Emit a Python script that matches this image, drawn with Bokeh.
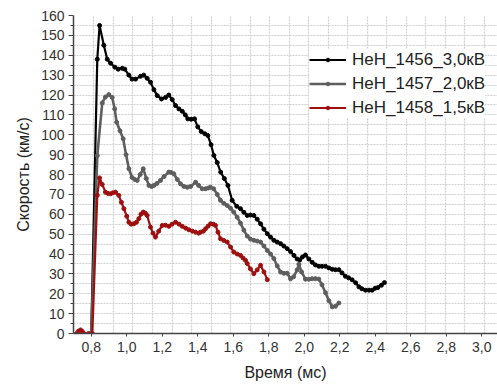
import numpy as np
from bokeh.plotting import figure
from bokeh.models import FixedTicker, Legend, LegendItem, Range1d
from bokeh.embed import file_html
from bokeh.resources import INLINE

# ---- data ----
t_1456 = [0.80, 0.834, 0.847, 0.871, 0.890, 0.909, 0.933, 0.952, 0.975, 0.989, 1.012, 1.03, 1.05,
          1.078, 1.096, 1.115, 1.134, 1.153, 1.172, 1.196, 1.219, 1.237, 1.256, 1.275, 1.294, 1.313,
          1.33, 1.344, 1.363, 1.382, 1.40, 1.42, 1.44, 1.457, 1.475, 1.491, 1.51, 1.529, 1.55, 1.57,
          1.594, 1.62, 1.641, 1.66, 1.679, 1.697, 1.716, 1.735, 1.754, 1.773, 1.792, 1.81, 1.829,
          1.848, 1.867, 1.885, 1.904, 1.923, 1.942, 1.96, 1.975, 1.99, 2.007, 2.026, 2.045, 2.063,
          2.082, 2.10, 2.12, 2.139, 2.158, 2.176, 2.195, 2.213, 2.232, 2.25, 2.27, 2.29, 2.308,
          2.325, 2.345, 2.365, 2.383, 2.40, 2.415, 2.435, 2.452]
v_1456 = [0, 138, 155, 145, 138, 136, 134, 133, 133.4, 133, 130, 128, 128,
          129.4, 130, 128.4, 126.4, 122.7, 119.7, 118, 118.8, 120, 117.7, 114.7, 113, 111.8,
          110, 108, 107.8, 108, 104, 101.6, 100.5, 99.6, 95, 89.6, 86, 81.2, 78, 74.5,
          67, 64, 62.8, 61, 59.4, 59.6, 59.4, 57.5, 55.2, 52.5, 50.2, 48.5, 46.9,
          46, 45.2, 44, 42.7, 41.2, 39.3, 37.5, 37, 38.5, 39.5, 37.5, 35.8, 34.5,
          33.8, 33.8, 33.8, 33, 32.3, 32.1, 32.1, 30.5, 28.8, 28, 27, 25.5, 23.5,
          22.5, 21.8, 21.8, 21.8, 22.8, 23.1, 24.3, 25.6]

t_1457 = [0.80, 0.834, 0.862, 0.880, 0.899, 0.918, 0.932, 0.943, 0.962, 0.98, 0.996, 1.012, 1.03,
          1.045, 1.059, 1.076, 1.093, 1.11, 1.125, 1.14, 1.153, 1.17, 1.19, 1.21, 1.237, 1.25,
          1.265, 1.285, 1.303, 1.322, 1.341, 1.36, 1.388, 1.405, 1.425, 1.444, 1.46, 1.472, 1.49,
          1.51, 1.528, 1.547, 1.566, 1.585, 1.603, 1.622, 1.641, 1.66, 1.679, 1.697, 1.716, 1.735,
          1.754, 1.773, 1.792, 1.81, 1.829, 1.848, 1.867, 1.885, 1.904, 1.923, 1.94, 1.96, 1.97,
          1.985, 2.007, 2.026, 2.045, 2.063, 2.082, 2.10, 2.12, 2.139, 2.158, 2.176, 2.195]
v_1457 = [0, 89.5, 116, 119, 120.2, 118.8, 113, 106.3, 102, 98, 90, 82.9, 78.5,
          77.5, 77, 80, 82.9, 78, 74.5, 74, 74.5, 75.5, 77, 79, 81.2, 81,
          80.4, 77.5, 75.3, 74, 73.6, 74, 76.1, 74.5, 72.8, 72.8, 73.2, 73.6, 72.8,
          70, 67, 65.5, 64.4, 63, 61.1, 58.5, 55.5, 52, 49, 47.5, 46.9, 46.5,
          46, 44, 41.8, 40, 37.7, 34, 30.9, 30.3, 30.3, 27.5, 28.5, 32, 34.8,
          31, 27.3, 27.3, 27.6, 27.6, 27.4, 24.5, 20.5, 16.5, 13.4, 13.7, 15.3]

t_1458 = [0.717, 0.728, 0.74, 0.75, 0.758, 0.785, 0.806, 0.834, 0.847, 0.862, 0.88, 0.894, 0.909,
          0.922, 0.937, 0.955, 0.97, 0.984, 1.0, 1.012, 1.025, 1.04, 1.055, 1.068, 1.08, 1.093,
          1.105, 1.115, 1.134, 1.148, 1.162, 1.18, 1.2, 1.218, 1.237, 1.255, 1.275, 1.295, 1.313,
          1.332, 1.35, 1.37, 1.388, 1.405, 1.416, 1.432, 1.444, 1.458, 1.472, 1.488, 1.5, 1.514,
          1.528, 1.547, 1.566, 1.585, 1.603, 1.622, 1.641, 1.655, 1.669, 1.679, 1.697, 1.716,
          1.735, 1.754, 1.773, 1.792]
v_1458 = [0, 1.2, 1.8, 1, 0, 0, 0, 69.5, 78.3, 75, 71.1, 70.5, 70.3,
          70.8, 71.1, 69.5, 66, 62.8, 59, 56, 55, 55.2, 56, 57.8, 60, 61.1,
          60.5, 59.4, 53.5, 50.5, 48.5, 51.5, 54.4, 54.5, 53.9, 55, 56, 55, 53.9,
          53, 52.2, 51.5, 51, 50.5, 51, 51.5, 52.7, 54, 55.2, 55, 54.4, 51,
          47.7, 46.8, 46, 43.5, 41, 40, 39.3, 38, 36.8, 35.2, 32.5, 30.1,
          32, 34.3, 31, 27.1]

series_names = ["HeH_1456_3,0кВ", "HeH_1457_2,0кВ", "HeH_1458_1,5кВ"]
series_colors = ["#000000", "#5e5e5e", "#9e1010"]

x_ticks = [0.8, 1.0, 1.2, 1.4, 1.6, 1.8, 2.0, 2.2, 2.4, 2.6, 2.8, 3.0]
x_tick_labels = ["0,8", "1,0", "1,2", "1,4", "1,6", "1,8", "2,0", "2,2", "2,4", "2,6", "2,8", "3,0"]
y_ticks = list(range(0, 161, 10))

FONT = "Liberation Sans"

p = figure(width=497, height=385, output_backend="svg", toolbar_location=None,
           x_range=Range1d(0.7, 3.089), y_range=Range1d(0, 160),
           min_border_left=73, min_border_right=0, min_border_top=15, min_border_bottom=52)
p.outline_line_color = None
p.background_fill_color = "white"
p.border_fill_color = "white"

# axes
p.xaxis.ticker = FixedTicker(ticks=x_ticks)
p.xaxis.major_label_overrides = {x: s for x, s in zip(x_ticks, x_tick_labels)}
p.yaxis.ticker = FixedTicker(ticks=y_ticks, minor_ticks=list(range(5, 160, 10)))
for ax in (p.xaxis[0], p.yaxis[0]):
    ax.axis_line_color = "#444444"
    ax.axis_line_width = 1.5
    ax.major_tick_line_color = "#444444"
    ax.minor_tick_line_color = "#444444"
    ax.major_tick_out = 5
    ax.major_tick_in = 0
    ax.minor_tick_out = 3
    ax.minor_tick_in = 0
    ax.major_label_text_font = FONT
    ax.major_label_text_font_size = "14px"
    ax.major_label_text_color = "#333333"
    ax.axis_label_text_font = FONT
    ax.axis_label_text_font_size = "16px"
    ax.axis_label_text_font_style = "normal"
    ax.axis_label_text_color = "#222222"
p.xaxis.minor_tick_line_color = None
p.xaxis.major_tick_out = 3
p.xaxis.axis_label = "Время (мс)"
p.yaxis.axis_label = "Скорость (км/с)"
p.xaxis.axis_label_standoff = 9
p.yaxis.axis_label_standoff = 6
p.yaxis.major_label_standoff = 4
p.xaxis.major_label_standoff = 5

# grid (background graph-paper)
grid_x = [round(0.815 + 0.110 * i, 4) for i in range(22)]
p.xgrid.ticker = FixedTicker(ticks=grid_x)
p.ygrid.ticker = FixedTicker(ticks=list(range(5, 161, 5)))
for g in (p.xgrid[0], p.ygrid[0]):
    g.grid_line_color = "#cfcfcf"
    g.grid_line_dash = "2 1"
    g.grid_line_width = 1.2

items = []
for t, v, name, col, w in [(t_1456, v_1456, series_names[0], series_colors[0], 2.2),
                           (t_1457, v_1457, series_names[1], series_colors[1], 2.6),
                           (t_1458, v_1458, series_names[2], series_colors[2], 2.2)]:
    r1 = p.line(t, v, line_color=col, line_width=w)
    r2 = p.scatter(t, v, marker="circle", size=4, fill_color=col, line_color=col)
    items.append(LegendItem(label=name, renderers=[r1, r2]))

legend = Legend(items=items, location=(236, 215),
                label_text_font=FONT, label_text_font_size="17px", label_text_color="#222222",
                glyph_width=37, glyph_height=9, label_height=21, spacing=3,
                label_standoff=6, padding=4, margin=0,
                border_line_color=None, background_fill_color="white", background_fill_alpha=1.0)
p.add_layout(legend)

open("out.html", "w").write(file_html(p, INLINE))
